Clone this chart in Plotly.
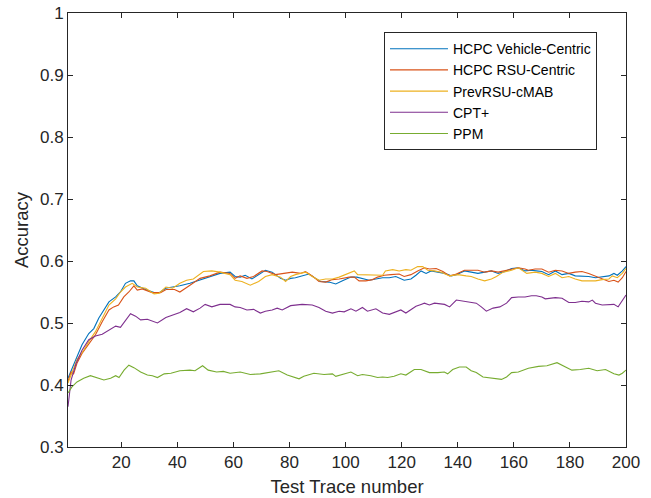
import plotly.graph_objects as go

# ---- data ----
vc_x = [1, 2.4, 4.2, 6, 8.4, 10.2, 12, 13.8, 15.6, 18, 19.7, 21.5, 23.3, 24.5, 25.7, 28.7, 31.7, 33.5, 35.9, 38.3,
        40.9, 44.5, 48.1, 51.6, 55.2, 58.8, 60.6, 62.4, 64.2, 66.6, 69.6, 71.4, 73.8, 76.8, 78.6, 80.4, 82.1, 84.5,
        86.9, 89.3, 91.1, 94.1, 96.5, 98.9, 101.9, 104, 106, 108.4, 110.8, 113.2, 115.6, 117.9, 120.9, 123.3, 125.1,
        126.9, 128.7, 130.5, 132.9, 135.3, 137.7, 139.5, 142.4, 144.8, 147.2, 149.6, 152, 154.4, 156.8, 159.2, 161.6,
        164, 166.3, 168, 170, 172.4, 174.8, 177.2, 179.6, 181.9, 184.3, 186.7, 189.1, 191.5, 193.9, 195.7, 196.9,
        198.7, 200]
vc_y = [0.411, 0.427, 0.446, 0.465, 0.483, 0.491, 0.508, 0.521, 0.534, 0.542, 0.550, 0.564, 0.568, 0.568, 0.560,
        0.554, 0.549, 0.549, 0.556, 0.558, 0.560, 0.564, 0.569, 0.575, 0.580, 0.582, 0.575, 0.574, 0.577, 0.571,
        0.580, 0.585, 0.582, 0.572, 0.569, 0.572, 0.573, 0.576, 0.579, 0.572, 0.567, 0.566, 0.563, 0.568, 0.574,
        0.574, 0.572, 0.569, 0.571, 0.573, 0.573, 0.575, 0.569, 0.571, 0.577, 0.584, 0.580, 0.584, 0.582, 0.580,
        0.576, 0.578, 0.584, 0.582, 0.580, 0.582, 0.584, 0.580, 0.583, 0.588, 0.589, 0.584, 0.585, 0.584, 0.583,
        0.578, 0.584, 0.578, 0.580, 0.576, 0.576, 0.575, 0.573, 0.575, 0.576, 0.580, 0.577, 0.584, 0.591]

rc_x = [1, 2.1, 3, 4.2, 6, 8.4, 10.8, 13.2, 15.6, 17.3, 19, 20.9, 22.7, 24.5, 25.7, 27.5, 31, 34, 36, 39, 40.9,
        44.5, 48.1, 51.6, 55.2, 58.8, 60.6, 62.4, 64.8, 67.2, 70.2, 72, 75, 78, 81, 83.9, 85.7, 88.1, 90.5, 92.9,
        95.3, 97.7, 101.3, 103.1, 104.8, 107.2, 109.6, 111.4, 113.8, 116.2, 119.1, 120.9, 123.3, 125.7, 128.1,
        129.9, 132.3, 134.7, 137.1, 138.9, 142.4, 144.8, 147.2, 149.6, 152, 154.4, 156.8, 159.2, 161.6, 164, 165.2,
        167.6, 170, 172.4, 174.8, 177.2, 179.6, 181.9, 184.3, 186.7, 189.1, 191.5, 193.9, 195.7, 197.2, 198.7, 200]
rc_y = [0.406, 0.421, 0.418, 0.435, 0.451, 0.467, 0.481, 0.502, 0.521, 0.526, 0.529, 0.542, 0.550, 0.560, 0.553,
        0.555, 0.549, 0.549, 0.554, 0.554, 0.550, 0.561, 0.572, 0.576, 0.582, 0.580, 0.572, 0.576, 0.572, 0.575,
        0.584, 0.583, 0.578, 0.580, 0.582, 0.580, 0.583, 0.576, 0.567, 0.566, 0.570, 0.571, 0.574, 0.574, 0.568,
        0.568, 0.570, 0.574, 0.577, 0.578, 0.579, 0.575, 0.578, 0.584, 0.589, 0.587, 0.588, 0.583, 0.576, 0.578,
        0.585, 0.585, 0.585, 0.582, 0.584, 0.582, 0.584, 0.587, 0.589, 0.587, 0.585, 0.587, 0.587, 0.582, 0.585,
        0.584, 0.580, 0.582, 0.583, 0.580, 0.576, 0.571, 0.567, 0.569, 0.566, 0.573, 0.583]

pr_x = [1, 2.4, 4.2, 6.6, 8.4, 10.8, 13.2, 15.6, 18, 19.7, 21.5, 23.9, 25.7, 28.7, 31.7, 33.5, 35.9, 38.3, 40.9,
        43.3, 45.7, 49.3, 52.3, 55.2, 58.8, 60.6, 63, 66, 69, 71.4, 73.8, 76.8, 78.6, 80.4, 82.1, 85.7, 88.1, 90.5,
        92.9, 95.3, 97.7, 100.1, 103.1, 104.3, 107.2, 110.8, 113.2, 114.2, 116.8, 119.1, 121.5, 123.3, 125.7, 127.5,
        129.3, 131.7, 134.1, 137.1, 140.1, 143, 144.8, 147.2, 149.6, 152, 153.8, 156.2, 159.2, 161.6, 164.6, 167.6,
        170, 172.4, 174.8, 177.2, 179.6, 181.9, 184.3, 186.7, 189.1, 191.5, 193.9, 195.1, 196.9, 198.7, 200]
pr_y = [0.403, 0.420, 0.441, 0.456, 0.470, 0.486, 0.508, 0.529, 0.539, 0.550, 0.558, 0.564, 0.558, 0.556, 0.547,
        0.548, 0.558, 0.556, 0.564, 0.569, 0.571, 0.583, 0.584, 0.582, 0.578, 0.569, 0.567, 0.561, 0.567, 0.575,
        0.578, 0.574, 0.567, 0.575, 0.578, 0.582, 0.575, 0.569, 0.571, 0.571, 0.574, 0.578, 0.584, 0.578, 0.578,
        0.578, 0.577, 0.584, 0.586, 0.584, 0.586, 0.585, 0.591, 0.591, 0.585, 0.584, 0.582, 0.576, 0.578, 0.576,
        0.575, 0.571, 0.568, 0.571, 0.575, 0.582, 0.585, 0.589, 0.580, 0.582, 0.580, 0.575, 0.580, 0.573, 0.575,
        0.571, 0.568, 0.568, 0.568, 0.570, 0.571, 0.576, 0.573, 0.580, 0.588]

cpt_x = [1, 2.1, 3.9, 6, 8.4, 10.8, 13.2, 15.6, 18, 19.7, 21.5, 23.3, 25.1, 26.9, 29.3, 32.9, 35.9, 38.3, 40.9,
         43.3, 45.7, 48.1, 49.9, 52.3, 55.2, 58.8, 60.6, 62.4, 64.8, 67.2, 69.6, 71.4, 73.8, 75.6, 77.4, 80.4, 82.1,
         84.5, 88.1, 90.5, 92.9, 95.3, 97.7, 99.5, 101.9, 103.7, 106, 107.8, 110.8, 113.2, 115.6, 117.9, 119.7,
         121.5, 123.3, 125.1, 126.9, 128.1, 129.9, 131.7, 135.3, 137.1, 139.5, 141.9, 144.2, 146.6, 148.4, 150.2,
         152.6, 155, 157.4, 159.2, 161.6, 164, 166.3, 168, 170, 171.2, 174.8, 177.2, 179.6, 181.9, 184.3, 186.7,
         188, 189.1, 191.5, 193.9, 195.7, 197.2, 198.7, 200]
cpt_y = [0.365, 0.408, 0.435, 0.456, 0.473, 0.479, 0.482, 0.489, 0.495, 0.493, 0.505, 0.515, 0.511, 0.505, 0.506,
         0.500, 0.509, 0.513, 0.517, 0.523, 0.518, 0.524, 0.530, 0.526, 0.530, 0.530, 0.526, 0.525, 0.521, 0.522,
         0.516, 0.519, 0.521, 0.524, 0.521, 0.528, 0.529, 0.530, 0.529, 0.525, 0.519, 0.516, 0.519, 0.518, 0.523,
         0.519, 0.525, 0.519, 0.523, 0.516, 0.514, 0.518, 0.521, 0.516, 0.521, 0.527, 0.530, 0.532, 0.529, 0.532,
         0.530, 0.526, 0.537, 0.535, 0.534, 0.532, 0.526, 0.519, 0.524, 0.526, 0.532, 0.541, 0.542, 0.542, 0.544,
         0.544, 0.542, 0.539, 0.541, 0.540, 0.533, 0.533, 0.535, 0.534, 0.537, 0.532, 0.529, 0.529, 0.530, 0.526,
         0.537, 0.545]

ppm_x = [1, 2.4, 4.2, 6.6, 9, 11.4, 13.8, 16.2, 18, 19.2, 21, 22.7, 24.5, 26.9, 29.3, 31.1, 32.9, 35.3, 37.7,
         40.9, 44.5, 46.3, 49, 51, 54, 56.4, 58.8, 62.4, 66, 69.6, 72.6, 74.4, 76.2, 79.2, 81.6, 83.4, 85.1, 88.7,
         92.3, 95.3, 96.5, 99.5, 101.9, 104.3, 106, 109, 111.4, 113.2, 115, 117.3, 119.7, 121.5, 124.5, 126.9,
         129.9, 132.9, 135.2, 136.4, 138.2, 140.6, 143, 144.8, 146.6, 149, 152, 155.6, 157.4, 159.2, 161.6, 165.2,
         168.8, 171.8, 175.4, 177.7, 180.7, 183.7, 186.7, 189.7, 192.7, 195.7, 197.5, 198.7, 200]
ppm_y = [0.387, 0.397, 0.405, 0.411, 0.415, 0.412, 0.408, 0.411, 0.415, 0.412, 0.424, 0.432, 0.428, 0.421, 0.416,
         0.415, 0.412, 0.418, 0.419, 0.423, 0.424, 0.423, 0.431, 0.424, 0.421, 0.422, 0.419, 0.421, 0.417, 0.418,
         0.420, 0.421, 0.423, 0.416, 0.412, 0.410, 0.414, 0.419, 0.417, 0.418, 0.414, 0.418, 0.421, 0.415, 0.417,
         0.415, 0.412, 0.413, 0.412, 0.414, 0.418, 0.416, 0.425, 0.425, 0.420, 0.420, 0.421, 0.418, 0.425, 0.429,
         0.429, 0.423, 0.420, 0.413, 0.411, 0.409, 0.413, 0.420, 0.421, 0.427, 0.430, 0.431, 0.436, 0.431, 0.424,
         0.425, 0.427, 0.423, 0.425, 0.418, 0.416, 0.419, 0.424]

series_names = ["HCPC Vehicle-Centric", "HCPC RSU-Centric", "PrevRSU-cMAB", "CPT+", "PPM"]
series_colors = ["#0072BD", "#D95319", "#EDB120", "#7E2F8E", "#77AC30"]
series_data = [(vc_x, vc_y), (rc_x, rc_y), (pr_x, pr_y), (cpt_x, cpt_y), (ppm_x, ppm_y)]

x_ticks = [20, 40, 60, 80, 100, 120, 140, 160, 180, 200]
y_ticks = [0.3, 0.4, 0.5, 0.6, 0.7, 0.8, 0.9, 1.0]
y_tick_labels = ["0.3", "0.4", "0.5", "0.6", "0.7", "0.8", "0.9", "1"]

fig = go.Figure()
for name, color, (xs, ys) in zip(series_names, series_colors, series_data):
    fig.add_trace(go.Scatter(x=xs, y=ys, mode="lines", name=name,
                             line=dict(color=color, width=1.1)))

axis_color = "#262626"
font_family = "Liberation Sans, Arial, Helvetica, sans-serif"

fig.update_layout(
    width=651, height=498,
    margin=dict(l=68, r=25, t=13, b=51),
    paper_bgcolor="white", plot_bgcolor="white",
    font=dict(family=font_family, size=17, color=axis_color),
    showlegend=True,
    legend=dict(x=0.948, y=0.956, xanchor="right", yanchor="top",
                bgcolor="white", bordercolor=axis_color, borderwidth=1,
                itemwidth=58,
                font=dict(size=14, color="black")),
)
fig.update_xaxes(
    range=[1, 200], tickvals=x_ticks, ticks="inside", ticklen=5, tickcolor=axis_color,
    showline=True, linecolor=axis_color, linewidth=1, mirror="ticks", showgrid=False, zeroline=False,
    automargin=False,
    title=dict(text="Test Trace number", font=dict(size=18.5, color=axis_color), standoff=8),
    tickfont=dict(size=17, color=axis_color),
)
fig.update_yaxes(
    range=[0.3, 1.0], tickvals=y_ticks, ticktext=y_tick_labels, ticks="inside", ticklen=5,
    tickcolor=axis_color, showline=True, linecolor=axis_color, linewidth=1, mirror="ticks",
    showgrid=False, zeroline=False, automargin=False,
    title=dict(text="Accuracy", font=dict(size=18.5, color=axis_color), standoff=6),
    tickfont=dict(size=17, color=axis_color),
)

fig.write_html("out.html")
